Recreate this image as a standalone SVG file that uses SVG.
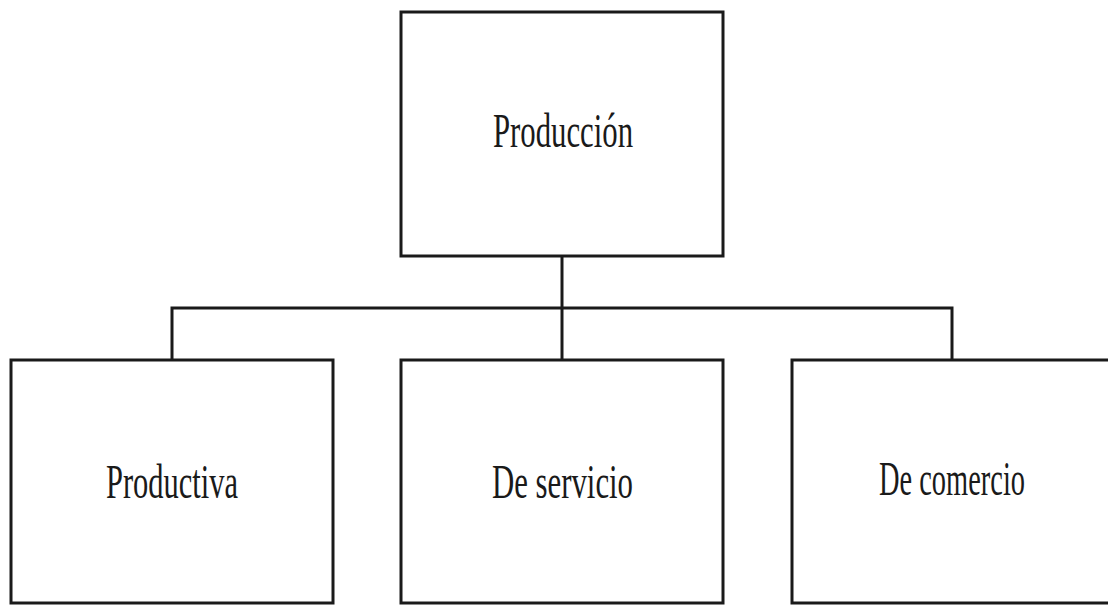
<svg xmlns="http://www.w3.org/2000/svg" width="1108" height="605" viewBox="0 0 1108 605">
<style>
.box{fill:#fff;stroke:#1a1a1a;stroke-width:3}
.lbl{font-family:"Liberation Serif","Times New Roman",serif;font-size:48px;fill:#1a1a1a}
.con{fill:none;stroke:#1a1a1a;stroke-width:3}
</style>
<rect width="1108" height="605" fill="#fff"/>
<g id="connectors">
<line class="con" x1="562" y1="256" x2="562" y2="360"/>
<polyline class="con" points="172,360 172,308 952,308 952,360"/>
</g>
<g id="produccion">
<rect class="box" x="401" y="12" width="322" height="244"/>
<text class="lbl" x="493" y="147" textLength="140" lengthAdjust="spacingAndGlyphs">Producción</text>
</g>
<g id="productiva">
<rect class="box" x="11" y="360" width="322" height="243"/>
<text class="lbl" x="106" y="498" textLength="132" lengthAdjust="spacingAndGlyphs">Productiva</text>
</g>
<g id="de-servicio">
<rect class="box" x="401" y="360" width="322" height="243"/>
<text class="lbl" x="492" y="498" textLength="141" lengthAdjust="spacingAndGlyphs">De servicio</text>
</g>
<g id="de-comercio">
<path class="box" d="M1108,360 H792 V603 H1108"/>
<text class="lbl" x="879" y="495" textLength="146" lengthAdjust="spacingAndGlyphs">De comercio</text>
</g>
</svg>
